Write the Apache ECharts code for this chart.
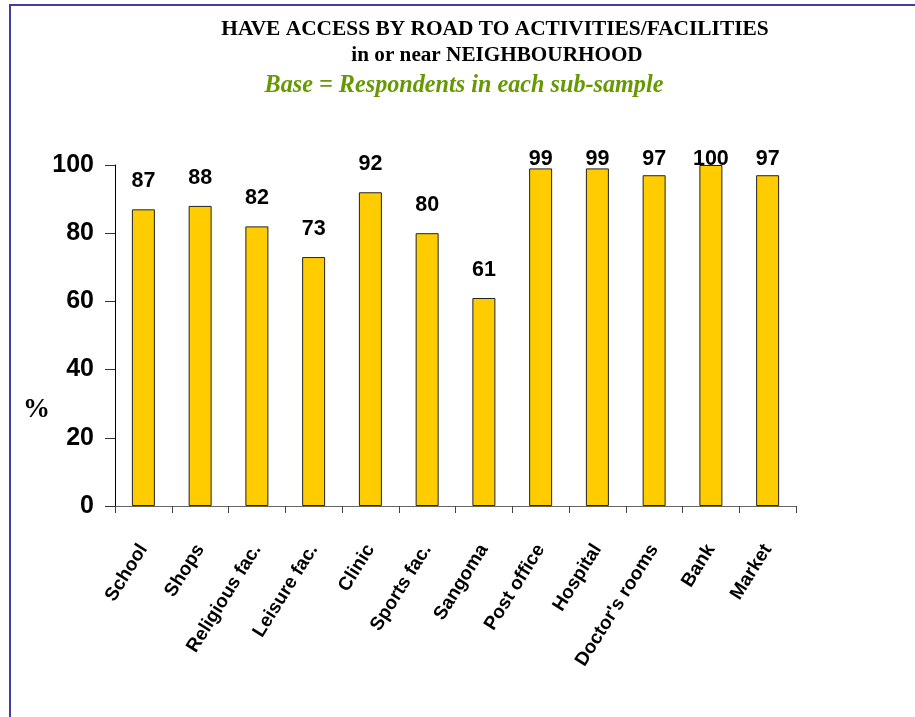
<!DOCTYPE html>
<html>
<head>
<meta charset="utf-8">
<script src="https://cdn.jsdelivr.net/npm/echarts@6/dist/echarts.min.js"></script>
<style>
html,body{margin:0;padding:0;background:#fff;}
#chart{width:915px;height:717px;}
</style>
</head>
<body>
<div id="chart"></div>
<script>
const categories = ['School','Shops','Religious fac.','Leisure fac.','Clinic','Sports fac.','Sangoma','Post office','Hospital',"Doctor's rooms",'Bank','Market'];
const values = [87, 88, 82, 73, 92, 80, 61, 99, 99, 97, 100, 97];
const yTicks = [0, 20, 40, 60, 80, 100];
const titleLine1 = 'HAVE ACCESS BY ROAD TO ACTIVITIES/FACILITIES';
const titleLine2 = 'in or near NEIGHBOURHOOD';
const subtitle = 'Base = Respondents in each sub-sample';
const yName = '%';

const chart = echarts.init(document.getElementById('chart'), null, {renderer: 'canvas'});
const GRID_TOP = 165;
const LABEL_MIN_TOP = GRID_TOP - 17;
const serif = '"Liberation Serif", "Times New Roman", serif';
const sans = '"Liberation Sans", Arial, sans-serif';

chart.setOption({
  backgroundColor: '#ffffff',
  animation: false,
  title: [
    {text: titleLine1, left: 490, top: 14, textAlign: 'center',
     textStyle: {fontFamily: serif, fontWeight: 'bold', fontSize: 21.4, color: '#000'}},
    {text: titleLine2, left: 492, top: 40, textAlign: 'center',
     textStyle: {fontFamily: serif, fontWeight: 'bold', fontSize: 21.2, color: '#000'}},
    {text: subtitle, left: 459, top: 69, textAlign: 'center',
     textStyle: {fontFamily: serif, fontWeight: 'bold', fontStyle: 'italic', fontSize: 24.2, color: '#669900'}}
  ],
  graphic: [
    {type: 'rect', shape: {x: 10, y: 5, width: 2000, height: 2000},
     style: {fill: 'none', stroke: '#3f3f9f', lineWidth: 2}, silent: true, z: 0},
    {type: 'text', left: 23, top: 397,
     style: {text: yName, font: 'bold 27px ' + serif, fill: '#000'}}
  ],
  grid: {left: 115, right: 119, top: GRID_TOP, bottom: 211, containLabel: false},
  xAxis: {
    type: 'category',
    data: categories,
    axisLine: {lineStyle: {color: '#666', width: 1}},
    axisTick: {show: true, length: 7, lineStyle: {color: '#444'}},
    axisLabel: {rotate: 58, interval: 0, margin: 40, fontFamily: sans, fontWeight: 'bold', fontSize: 19, color: '#000'}
  },
  yAxis: {
    type: 'value', min: 0, max: 100, interval: 20,
    axisLine: {show: true, lineStyle: {color: '#000', width: 1}},
    axisTick: {show: true, length: 10, lineStyle: {color: '#333'}},
    splitLine: {show: false},
    axisLabel: {margin: 21, fontFamily: sans, fontWeight: 'bold', fontSize: 25, color: '#000',
      formatter: v => yTicks.indexOf(v) >= 0 ? String(v) : ''}
  },
  series: [{
    type: 'bar',
    data: values,
    barWidth: 23,
    itemStyle: {color: '#FFCC00', borderColor: '#222', borderWidth: 1},
    label: {show: true, position: 'top', distance: 17, fontFamily: sans, fontWeight: 'bold', fontSize: 21.5, color: '#000'},
    labelLayout: function (p) {
      const r = p.labelRect;
      return {x: r.x + r.width / 2, y: Math.max(r.y, LABEL_MIN_TOP), align: 'center', verticalAlign: 'top'};
    }
  }]
});
</script>
</body>
</html>
